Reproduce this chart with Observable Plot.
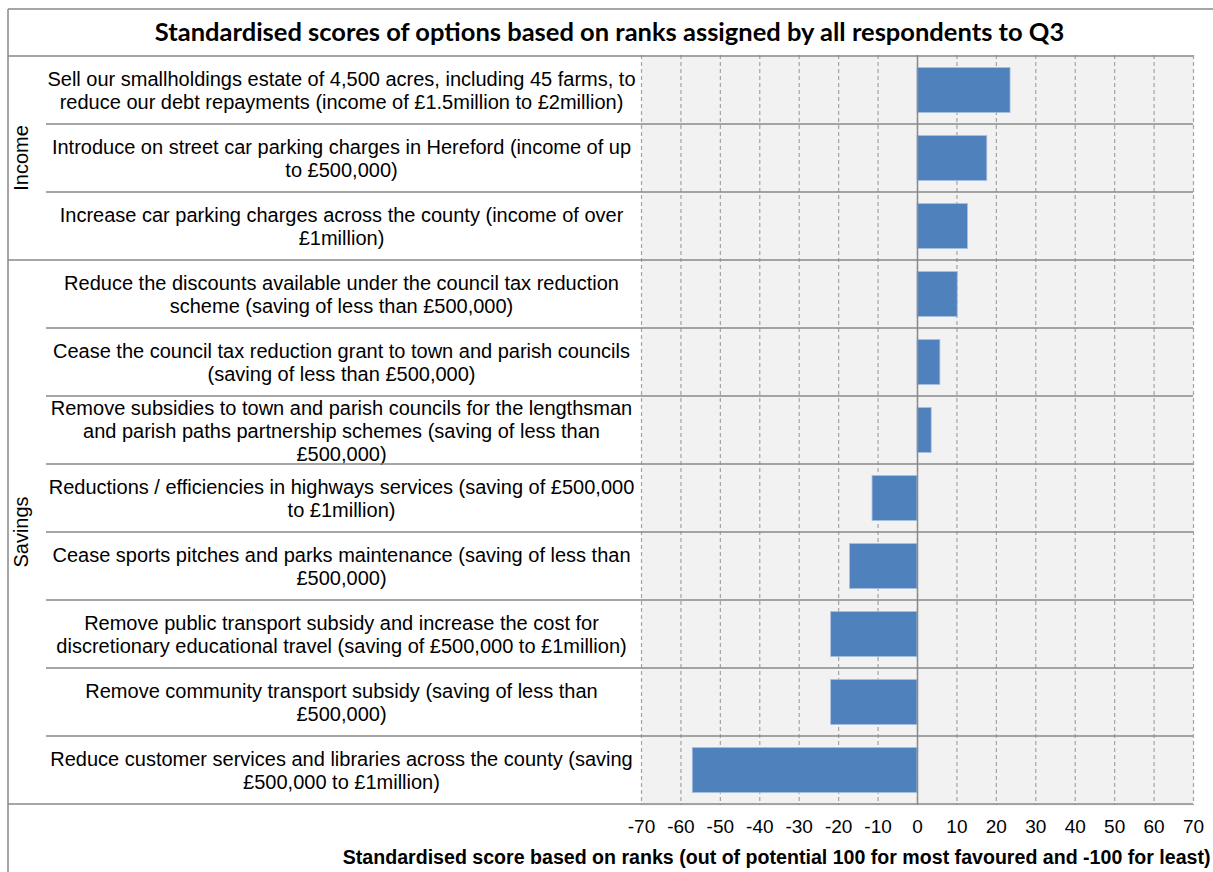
<!DOCTYPE html>
<html>
<head>
<meta charset="utf-8">
<script src="https://cdn.jsdelivr.net/npm/d3@7"></script>
<script src="https://cdn.jsdelivr.net/npm/@observablehq/plot@0.6"></script>
<style>
  body { margin: 0; background: #fff; }
  #chart svg { display: block; }
</style>
</head>
<body>
<div id="chart"></div>
<script>
// Chart text
const title = "Standardised scores of options based on ranks assigned by all respondents to Q3";
const xLabel = "Standardised score based on ranks (out of potential 100 for most favoured and -100 for least)";

// Options (line breaks as laid out in the category column)
const options = [
  "Sell our smallholdings estate of 4,500 acres, including 45 farms, to\nreduce our debt repayments (income of £1.5million to £2million)",
  "Introduce on street car parking charges in Hereford (income of up\nto £500,000)",
  "Increase car parking charges across the county (income of over\n£1million)",
  "Reduce the discounts available under the council tax reduction\nscheme (saving of less than £500,000)",
  "Cease the council tax reduction grant to town and parish councils\n(saving of less than £500,000)",
  "Remove subsidies to town and parish councils for the lengthsman\nand parish paths partnership schemes (saving of less than\n£500,000)",
  "Reductions / efficiencies in highways services (saving of £500,000\nto £1million)",
  "Cease sports pitches and parks maintenance (saving of less than\n£500,000)",
  "Remove public transport subsidy and increase the cost for\ndiscretionary educational travel (saving of £500,000 to £1million)",
  "Remove community transport subsidy (saving of less than\n£500,000)",
  "Reduce customer services and libraries across the county (saving\n£500,000 to £1million)"
];
const groups = ["Income", "Income", "Income",
  "Savings", "Savings", "Savings", "Savings", "Savings", "Savings", "Savings", "Savings"];
const scores = [23.6, 17.7, 12.8, 10.2, 5.8, 3.6, -11.4, -17.1, -21.9, -21.9, -57.0];
const xTicks = [-70, -60, -50, -40, -30, -20, -10, 0, 10, 20, 30, 40, 50, 60, 70];

const data = options.map((option, i) => ({option, group: groups[i], score: scores[i]}));

const W = 1213, H = 872;
const FONT = "'Liberation Sans', Arial, sans-serif";
const LINE = "#898989";

const plot = Plot.plot({
  width: W,
  height: H,
  marginLeft: 641,
  marginRight: 20,
  marginTop: 55,
  marginBottom: 67,
  style: {fontFamily: FONT, fontSize: "20px", background: "#fff", color: "#000"},
  x: {domain: [-70, 70], label: null},
  y: {domain: options, padding: 0, axis: null, label: null},
  marks: [
    Plot.frame({fill: "#f2f2f2", stroke: null}),
    Plot.gridX(xTicks, {stroke: "#a3a3a3", strokeOpacity: 1, strokeWidth: 1.2, strokeDasharray: "4,3"}),
    Plot.barX(data, {x: "score", y: "option", fill: "#4f81bd", stroke: "#a9bfdf", strokeWidth: 0.8,
      insetTop: 11.5, insetBottom: 11.5}),
    Plot.ruleX([0], {stroke: "#8c8c8c", strokeWidth: 1.5}),
    Plot.axisX(xTicks, {anchor: "bottom", tickSize: 0, tickPadding: 14, tickFormat: d => String(d),
      fontSize: 19, fill: "#000", label: null}),
    Plot.text(data, {y: "option", text: "option", frameAnchor: "left", dx: -300, textAnchor: "middle",
      lineHeight: 1.15, fontSize: 20, fill: "#000"}),
    Plot.text([title], {frameAnchor: "top", dx: -308, dy: -23, textAnchor: "middle", lineAnchor: "middle",
      fontFamily: "Lato, 'Open Sans', sans-serif", fontWeight: "bold", fontSize: 25.5, fill: "#000"}),
    Plot.text([xLabel], {frameAnchor: "bottom-right", dx: 17, dy: 52, textAnchor: "end", lineAnchor: "middle",
      fontWeight: "bold", fontSize: 19.6, fill: "#000"})
  ]
});

document.getElementById("chart").append(plot);

// Table rules, outer border and group labels, positioned with the plot's scales
const svg = d3.select(plot);
const ys = plot.scale("y");
const xs = plot.scale("x");
const bw = ys.bandwidth;
const xRight = xs.apply(70);
const left = 8;
const g = svg.append("g").attr("stroke", LINE).attr("stroke-width", 1.5).attr("fill", "none");

// outer border: top edge and left edge
g.append("line").attr("x1", left).attr("x2", W).attr("y1", 9).attr("y2", 9);
g.append("line").attr("x1", left).attr("x2", left).attr("y1", 9).attr("y2", H);

// row boundaries
const bounds = options.map((o, i) => ({
  y: ys.apply(o),
  full: i === 0 || groups[i] !== groups[i - 1]
}));
bounds.push({y: ys.apply(options[options.length - 1]) + bw, full: true});
for (const b of bounds) {
  g.append("line")
    .attr("x1", b.full ? left : 46).attr("x2", xRight)
    .attr("y1", b.y).attr("y2", b.y);
}

// group labels, rotated in the left column
const groupNames = Array.from(new Set(groups));
for (const name of groupNames) {
  const rows = options.filter((o, i) => groups[i] === name);
  const y0 = ys.apply(rows[0]);
  const y1 = ys.apply(rows[rows.length - 1]) + bw;
  const cy = (y0 + y1) / 2;
  svg.append("text")
    .attr("transform", `translate(21,${cy}) rotate(-90)`)
    .attr("text-anchor", "middle")
    .attr("dominant-baseline", "central")
    .attr("font-family", FONT)
    .attr("font-size", 20)
    .attr("fill", "#000")
    .text(name);
}
</script>
</body>
</html>
